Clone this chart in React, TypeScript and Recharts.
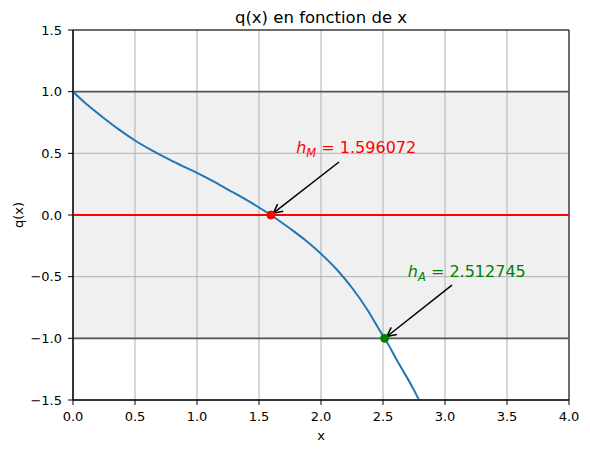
import React from 'react';
import {
  ComposedChart,
  Line,
  XAxis,
  YAxis,
  CartesianGrid,
  ReferenceArea,
  ReferenceLine,
  ReferenceDot,
  Label,
} from 'recharts';

// ---- data ----
const xValues = [
  0, 0.125, 0.25, 0.375, 0.5, 0.625, 0.75, 0.875, 1.0, 1.125, 1.25, 1.375, 1.5, 1.596072,
  1.75, 1.875, 2.0, 2.125, 2.25, 2.375, 2.5, 2.512745, 2.625, 2.75, 2.79,
];
const qValues = [
  1.0, 0.885, 0.785, 0.69, 0.604, 0.53, 0.463, 0.401, 0.341, 0.276, 0.206, 0.136, 0.061, 0,
  -0.11, -0.205, -0.315, -0.44, -0.59, -0.77, -0.98, -1.0, -1.2, -1.42, -1.5,
];

const xTicks = [0, 0.5, 1, 1.5, 2, 2.5, 3, 3.5, 4];
const yTicks = [-1.5, -1, -0.5, 0, 0.5, 1, 1.5];

const hM = 1.596072;
const hA = 2.512745;
const bandLimits = [-1, 1];

const annotationSub = ['M', 'A'];
const annotationValues = [hM, hA];
const annotationTargetsY = [0, -1];
const annotationTextX = [1.8, 2.7];
const annotationTextY = [0.5, -0.5];
const annotationTailX = [2.145, 3.056];
const annotationTailY = [0.43, -0.568];
const annotationColors = ['#ff0000', '#008000'];

const data = xValues.map((x, i) => ({ x, q: qValues[i] }));

const FONT = 'DejaVu Sans, sans-serif';
const fmt = (v: number) => v.toFixed(1).replace('-', '\u2212');

const arrowShape = (props: any) => {
  const { x1, y1, x2, y2 } = props;
  const dx = x2 - x1;
  const dy = y2 - y1;
  const len = Math.sqrt(dx * dx + dy * dy);
  const ux = dx / len;
  const uy = dy / len;
  const shrink = 3;
  const ex = x2 - ux * shrink;
  const ey = y2 - uy * shrink;
  const hl = 9;
  const hw = 4.5;
  const bx = ex - ux * hl;
  const by = ey - uy * hl;
  const px = -uy;
  const py = ux;
  return (
    <g>
      <line x1={x1} y1={y1} x2={ex} y2={ey} stroke="#000" strokeWidth={1.5} />
      <polyline
        points={`${bx + px * hw},${by + py * hw} ${ex},${ey} ${bx - px * hw},${by - py * hw}`}
        fill="none"
        stroke="#000"
        strokeWidth={1.5}
      />
    </g>
  );
};

const makeTextShape = (sub: string, value: number, color: string) => (props: any) => {
  const { cx, cy } = props;
  return (
    <text x={cx} y={cy} fill={color} fontSize={16} fontFamily={FONT}>
      <tspan fontStyle="italic">h</tspan>
      <tspan fontStyle="italic" fontSize={11.5} dy={4}>
        {sub}
      </tspan>
      <tspan dy={-4}>{' = ' + value.toFixed(6)}</tspan>
    </text>
  );
};

export default function App() {
  return (
    <div style={{ position: 'absolute', left: 0, top: 0, width: 590, height: 453, background: '#fff' }}>
      <ComposedChart
        width={590}
        height={453}
        data={data}
        margin={{ top: 30, right: 21, bottom: 0, left: 0 }}
      >
        <ReferenceArea
          x1={0}
          x2={4}
          y1={bandLimits[0]}
          y2={bandLimits[1]}
          fill="#f0f0f0"
          fillOpacity={1}
          stroke="none"
          zIndex={-200}
        />
        <CartesianGrid stroke="#b0b0b0" strokeWidth={1} />
        <XAxis
          type="number"
          dataKey="x"
          domain={[0, 4]}
          ticks={xTicks}
          interval={0}
          tickFormatter={fmt}
          height={53}
          tickSize={5}
          tickMargin={7}
          axisLine={{ stroke: '#000' }}
          tickLine={{ stroke: '#000' }}
          tick={{ fill: '#000', fontSize: 13, fontFamily: FONT }}
        >
          <Label
            content={(p: any) => {
              const vb = p.viewBox;
              return (
                <text x={vb.x + vb.width / 2} y={vb.y + 40} textAnchor="middle" fontSize={13} fontFamily={FONT} fill="#000">
                  x
                </text>
              );
            }}
          />
        </XAxis>
        <YAxis
          type="number"
          domain={[-1.5, 1.5]}
          ticks={yTicks}
          interval={0}
          allowDataOverflow
          tickFormatter={fmt}
          width={73}
          tickSize={5}
          tickMargin={6}
          axisLine={{ stroke: '#000' }}
          tickLine={{ stroke: '#000' }}
          tick={{ fill: '#000', fontSize: 13, fontFamily: FONT }}
        >
          <Label
            content={(p: any) => {
              const vb = p.viewBox;
              const cx = 18;
              const cy = vb.y + vb.height / 2;
              return (
                <text
                  x={cx}
                  y={cy}
                  transform={`rotate(-90, ${cx}, ${cy})`}
                  textAnchor="middle"
                  dominantBaseline="central"
                  fontSize={13}
                  fontFamily={FONT}
                  fill="#000"
                >
                  q(x)
                </text>
              );
            }}
          />
        </YAxis>
        {bandLimits.map((b) => (
          <ReferenceLine key={'b' + b} y={b} stroke="#555555" strokeWidth={1.8} />
        ))}
        <ReferenceLine y={0} stroke="#ff0000" strokeWidth={2} />
        <Line
          type="monotone"
          dataKey="q"
          stroke="#1f77b4"
          strokeWidth={2}
          dot={false}
          activeDot={false}
          isAnimationActive={false}
        />
        {annotationValues.map((v, i) => (
          <ReferenceDot
            key={'d' + i}
            x={v}
            y={annotationTargetsY[i]}
            r={4}
            fill={annotationColors[i]}
            stroke={annotationColors[i]}
            strokeWidth={1}
          />
        ))}
        {annotationValues.map((v, i) => (
          <ReferenceLine
            key={'a' + i}
            segment={[
              { x: annotationTailX[i], y: annotationTailY[i] },
              { x: v, y: annotationTargetsY[i] },
            ]}
            shape={arrowShape}
          />
        ))}
        {annotationValues.map((v, i) => (
          <ReferenceDot
            key={'t' + i}
            x={annotationTextX[i]}
            y={annotationTextY[i]}
            r={0}
            shape={makeTextShape(annotationSub[i], v, annotationColors[i])}
          />
        ))}
        <ReferenceArea x1={0} x2={4} y1={-1.5} y2={1.5} fill="none" stroke="#000" strokeWidth={1} />
        <text x={321} y={23} textAnchor="middle" fontSize={16.5} fontFamily={FONT} fill="#000">
          q(x) en fonction de x
        </text>
      </ComposedChart>
    </div>
  );
}
